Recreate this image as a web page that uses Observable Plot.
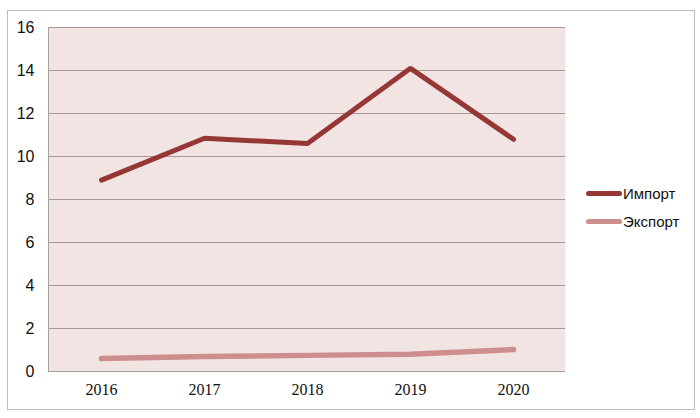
<!DOCTYPE html>
<html>
<head>
<meta charset="utf-8">
<script src="https://cdn.jsdelivr.net/npm/d3@7"></script>
<script src="https://cdn.jsdelivr.net/npm/@observablehq/plot@0.6"></script>
<style>
  body { margin: 0; background: #fff; }
  #wrap { position: relative; width: 700px; height: 418px; overflow: hidden; }
  #border { position: absolute; left: 7px; top: 10px; width: 686px; height: 398px; border: 1px solid #bdbdbd; pointer-events: none; }
  .leg { position: absolute; left: 586px; font: 15px "Liberation Sans", Arial, sans-serif; color: #111; display: flex; align-items: center; }
  .leg span.sw { display: inline-block; width: 36px; height: 5px; border-radius: 3px; margin-right: 1px; }
</style>
</head>
<body>
<div id="wrap">
  <div id="chart"></div>
  <div id="border"></div>
  <div class="leg" style="top:185px"><span class="sw" style="background:#953735"></span>Импорт</div>
  <div class="leg" style="top:213px"><span class="sw" style="background:#cf8e8e"></span>Экспорт</div>
</div>
<script>
const years = ["2016", "2017", "2018", "2019", "2020"];
const importValues = [8.9, 10.85, 10.6, 14.1, 10.8];
const exportValues = [0.6, 0.7, 0.75, 0.8, 1.02];
const yTicks = [0, 2, 4, 6, 8, 10, 12, 14, 16];
const gridTicks = [2, 4, 6, 8, 10, 12, 14, 16];

const imp = years.map((y, i) => ({year: y, value: importValues[i]}));
const exp = years.map((y, i) => ({year: y, value: exportValues[i]}));

const chart = Plot.plot({
  width: 700,
  height: 418,
  marginLeft: 48,
  marginRight: 135,
  marginTop: 27,
  marginBottom: 47,
  x: {type: "point", domain: years, padding: 0.5, label: null},
  y: {domain: [0, 16], ticks: yTicks, label: null},
  style: {background: "transparent"},
  marks: [
    Plot.frame({fill: "#f3e4e4", stroke: null}),
    Plot.ruleY(gridTicks, {stroke: "#a89696", strokeWidth: 1.2}),
    Plot.ruleY([0], {stroke: "#a0a0a0", strokeWidth: 1.2}),
    Plot.frame({anchor: "left", stroke: "#a0a0a0"}),
    Plot.axisY({ticks: yTicks, tickSize: 0, tickPadding: 14, fontSize: 16, fontFamily: "Liberation Sans, Arial, sans-serif", fill: "#111", label: null}),
    Plot.axisX({tickSize: 0, tickPadding: 12, fontSize: 16, fontFamily: "Liberation Serif, DejaVu Serif, serif", fill: "#111", label: null}),
    Plot.lineY(exp, {x: "year", y: "value", stroke: "#cf8e8e", strokeWidth: 5.5, strokeLinecap: "round", strokeLinejoin: "miter"}),
    Plot.lineY(imp, {x: "year", y: "value", stroke: "#953735", strokeWidth: 5, strokeLinecap: "round", strokeLinejoin: "miter"})
  ]
});
document.getElementById("chart").appendChild(chart);
</script>
</body>
</html>
